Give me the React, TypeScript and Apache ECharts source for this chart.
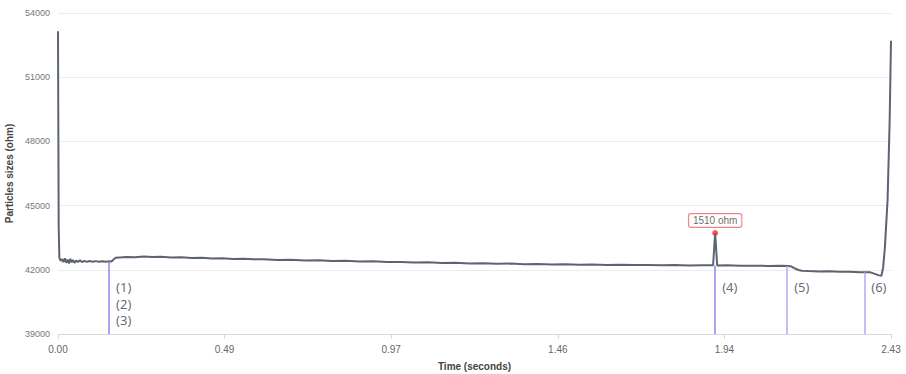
import React, { useEffect, useRef } from "react";
import * as echarts from "echarts";

const times = [
  0.0, 0.002, 0.004, 0.008, 0.012, 0.016, 0.02, 0.024, 0.028, 0.032, 0.036, 0.04, 0.044, 0.048, 0.053,
  0.058, 0.064, 0.07, 0.077, 0.084, 0.092, 0.1, 0.11, 0.12, 0.13, 0.14, 0.149, 0.156, 0.162, 0.168,
  0.18, 0.2, 0.225, 0.25, 0.275, 0.3, 0.33, 0.36, 0.39, 0.42, 0.45, 0.48, 0.51, 0.54, 0.57, 0.6,
  0.64, 0.68, 0.72, 0.76, 0.8, 0.84, 0.88, 0.92, 0.96, 1.0, 1.04, 1.08, 1.12, 1.16, 1.2, 1.24, 1.28,
  1.32, 1.36, 1.4, 1.44, 1.48, 1.52, 1.56, 1.6, 1.64, 1.68, 1.72, 1.76, 1.8, 1.84, 1.88, 1.911,
  1.917, 1.923, 1.95, 1.99, 2.03, 2.07, 2.11, 2.13, 2.14, 2.15, 2.16, 2.17, 2.19, 2.22, 2.25, 2.28,
  2.31, 2.34, 2.37, 2.385, 2.395, 2.402, 2.407, 2.412, 2.42, 2.426, 2.43,
];

const values = [
  53150, 44000, 42550, 42420, 42500, 42360, 42540, 42330, 42480, 42300, 42510, 42350, 42460, 42320, 42430,
  42370, 42440, 42360, 42420, 42370, 42410, 42380, 42405, 42375, 42400, 42380, 42395, 42390, 42480, 42560,
  42580, 42600, 42590, 42620, 42600, 42610, 42580, 42590, 42555, 42560, 42530, 42545, 42510, 42520, 42490, 42495,
  42460, 42470, 42440, 42445, 42415, 42420, 42390, 42395, 42365, 42370, 42345, 42350, 42320, 42325, 42300, 42305, 42280,
  42290, 42265, 42270, 42250, 42260, 42240, 42250, 42230, 42240, 42220, 42230, 42215, 42225, 42205, 42215, 42210,
  43720, 42200, 42210, 42190, 42195, 42180, 42185, 42175, 42150, 42060, 41990, 41960, 41945, 41925, 41930, 41905,
  41910, 41890, 41880, 41800, 41740, 41720, 42100, 43000, 45260, 48900, 52700,
];

const peakIndex = 79;
const peakBaseIndex = 78;

const xTicks = [0, 0.486, 0.972, 1.458, 1.944, 2.43];
const yTicks = [39000, 42000, 45000, 48000, 51000, 54000];

const annoTimes = [0.149, 1.917, 2.127, 2.352];
const annoTops = [42395, 42205, 42180, 41890];
const annoLabels = ["(1)\n(2)\n(3)", "(4)", "(5)", "(6)"];
const annoLabelY = [40425, 41196, 41196, 41196];
const annoColors = ["#9484e6", "#9484e6", "#b5aaf0", "#b5aaf0"];

export default function App() {
  const ref = useRef<HTMLDivElement>(null);
  useEffect(() => {
    if (!ref.current) return;
    const chart = echarts.init(ref.current, undefined, { renderer: "svg" });
    const yMin = yTicks[0];
    const yMax = yTicks[yTicks.length - 1];
    const xMin = xTicks[0];
    const xMax = xTicks[xTicks.length - 1];
    const lineData = times.map((t, i) => [t, values[i]]);
    const peakDiff = values[peakIndex] - values[peakBaseIndex];
    chart.setOption({
      animation: false,
      grid: { left: 58, right: 15, top: 13, bottom: 40, containLabel: false, outerBoundsMode: "none" },
      xAxis: {
        type: "value",
        min: xMin,
        max: xMax,
        interval: xTicks[1] - xTicks[0],
        name: "Time (seconds)",
        nameLocation: "middle",
        nameGap: 27,
        nameTextStyle: { fontWeight: "bold", fontSize: 10, color: "#444", fontFamily: "Liberation Sans" },
        axisLine: { show: true, lineStyle: { color: "#d9d9d9" } },
        axisTick: { show: true, length: 5, lineStyle: { color: "#d9d9d9" } },
        splitLine: { show: false },
        axisLabel: {
          fontSize: 10,
          color: "#666",
          margin: 10,
          fontFamily: "Liberation Sans",
          formatter: (v: number) => v.toFixed(2),
        },
      },
      yAxis: {
        type: "value",
        min: yMin,
        max: yMax,
        interval: yTicks[1] - yTicks[0],
        name: "Particles sizes (ohm)",
        nameLocation: "middle",
        nameGap: 40,
        nameTextStyle: { fontWeight: "bold", fontSize: 10, color: "#444", fontFamily: "Liberation Sans" },
        axisLine: { show: false },
        axisTick: { show: false },
        splitLine: { lineStyle: { color: "#ececec" } },
        axisLabel: {
          fontSize: 9,
          color: "#777",
          margin: 8,
          fontFamily: "Liberation Sans",
          formatter: (v: number) => String(v),
        },
      },
      series: [
        {
          type: "line",
          data: lineData,
          symbol: "none",
          lineStyle: { color: "#5c6470", width: 2 },
          z: 3,
          markLine: {
            silent: true,
            symbol: ["none", "none"],
            label: { show: false },
            data: annoTimes.map((t, i) => [
              { coord: [t, annoTops[i]], lineStyle: { color: annoColors[i], width: 1.5, type: "solid" } },
              { coord: [t, yMin] },
            ]),
          },
        },
        {
          type: "scatter",
          data: annoTimes.map((t, i) => [t, annoLabelY[i]]),
          symbolSize: 0,
          silent: true,
          label: {
            show: true,
            position: "right",
            distance: 7,
            fontSize: 13,
            lineHeight: 16.5,
            color: "#3b4456",
            fontFamily: "Noto Sans",
            formatter: (p: any) => annoLabels[p.dataIndex],
          },
          z: 4,
        },
        {
          type: "scatter",
          data: [[times[peakIndex], values[peakIndex]]],
          symbolSize: 6,
          itemStyle: { color: "#e8322f" },
          z: 5,
          label: {
            show: true,
            position: "top",
            distance: 3,
            formatter: () => `${peakDiff} ohm`,
            fontSize: 10,
            color: "#444",
            fontFamily: "Liberation Sans",
            backgroundColor: "#fff",
            borderColor: "#ee5f5f",
            borderWidth: 1,
            borderRadius: 2,
            padding: [2, 4, 1, 4],
          },
        },
      ],
    });
    return () => chart.dispose();
  }, []);
  return (
    <div
      ref={ref}
      style={{ position: "absolute", left: 0, top: 0, width: 906, height: 374 }}
    />
  );
}
